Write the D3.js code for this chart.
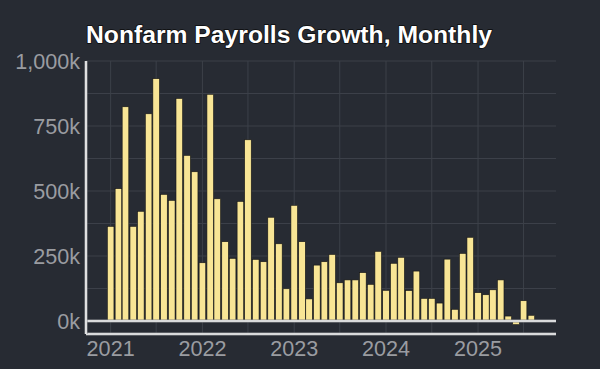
<!DOCTYPE html>
<html lang="en">
<head>
<meta charset="utf-8">
<title>Nonfarm Payrolls Growth, Monthly</title>
<script src="https://d3js.org/d3.v7.min.js"></script>
<style>
  html, body { margin: 0; padding: 0; background: #272b33; }
  svg { display: block; font-family: "Liberation Sans", Arial, sans-serif; }
  .grid line { stroke: #3c4049; stroke-width: 1; }
  .lab { fill: #9a9ca1; font-size: 21.6px; }
</style>
</head>
<body>
<div id="chart"></div>
<script>
// monthly change in nonfarm payrolls, thousands, Jan 2021 .. Aug 2025
var firstMonth = new Date(2021, 0, 1);
var payrolls = [
  364, 509, 824, 364, 422, 797, 932, 487, 464, 856, 637, 574,
  224, 872, 470, 305, 241, 460, 697, 237, 228, 399, 297, 124,
  445, 305, 85, 215, 228, 256, 147, 158, 158, 186, 141, 268,
  118, 222, 245, 117, 192, 87, 87, 69, 238, 45, 260, 322,
  109, 101, 120, 158, 19, -14, 78, 22
];
var yTicks = [0, 250, 500, 750, 1000];
var yMinor = [125, 375, 625, 875];
var years = [2021, 2022, 2023, 2024, 2025];

var w = 600, h = 369;
var pLeft = 86, pRight = 556, pTop = 61, pBottom = 334;

var svg = d3.select("#chart").append("svg")
  .attr("width", w).attr("height", h);

svg.append("rect").attr("width", w).attr("height", h).attr("fill", "#272b33");

var months = payrolls.map(function(v, i) { return d3.timeMonth.offset(firstMonth, i); });
var lastMonth = months[months.length - 1];

var x = d3.scaleTime()
  .domain([d3.timeDay.offset(firstMonth, -98), d3.timeDay.offset(lastMonth, 98)])
  .range([pLeft, pRight]);

var y = d3.scaleLinear()
  .domain([-50, 1000])
  .range([pBottom, pTop]);

// grid
var grid = svg.append("g").attr("class", "grid");
grid.selectAll(".hy")
  .data(yTicks.concat(yMinor))
  .enter().append("line")
  .attr("x1", pLeft).attr("x2", pRight)
  .attr("y1", function(d) { return y(d); })
  .attr("y2", function(d) { return y(d); });

var vLines = [];
years.forEach(function(yr) {
  vLines.push(new Date(yr, 0, 1));
  vLines.push(new Date(yr, 6, 1));
});
grid.selectAll(".vx")
  .data(vLines)
  .enter().append("line")
  .attr("x1", function(d) { return x(d); })
  .attr("x2", function(d) { return x(d); })
  .attr("y1", pTop).attr("y2", pBottom);

// bars
var bw = 6.6;
svg.append("g").selectAll("rect")
  .data(payrolls)
  .enter().append("rect")
  .attr("x", function(d, i) { return x(months[i]) - bw / 2; })
  .attr("y", function(d) { return y(Math.max(0, d)); })
  .attr("width", bw)
  .attr("height", function(d) { return Math.abs(y(d) - y(0)); })
  .attr("fill", "#f8e595")
  .attr("stroke", "#141414")
  .attr("stroke-width", 0.6);

// zero line and axis lines
function whiteLine(x1, y1, x2, y2) {
  svg.append("line")
    .attr("x1", x1).attr("y1", y1).attr("x2", x2).attr("y2", y2)
    .attr("stroke", "#8d8f94").attr("stroke-width", 3);
  svg.append("line")
    .attr("x1", x1).attr("y1", y1).attr("x2", x2).attr("y2", y2)
    .attr("stroke", "#f4f4f4").attr("stroke-width", 1.6);
}
whiteLine(pLeft, y(0), pRight, y(0));
whiteLine(pLeft, pBottom, pRight, pBottom);
whiteLine(pLeft, pTop, pLeft, pBottom);

// axis labels
var fmt = d3.format(",");
svg.append("g").selectAll("text")
  .data(yTicks)
  .enter().append("text")
  .attr("class", "lab")
  .attr("x", 80)
  .attr("y", function(d) { return y(d); })
  .attr("dy", "0.36em")
  .attr("text-anchor", "end")
  .text(function(d) { return fmt(d) + "k"; });

svg.append("g").selectAll("text")
  .data(years)
  .enter().append("text")
  .attr("class", "lab")
  .attr("x", function(d) { return x(new Date(d, 0, 1)); })
  .attr("y", 356)
  .attr("text-anchor", "middle")
  .text(function(d) { return d; });

// title
svg.append("text")
  .attr("x", 86).attr("y", 43)
  .attr("font-size", "24.7px")
  .attr("font-weight", "bold")
  .attr("fill", "#ffffff")
  .attr("stroke", "#0c0c0c")
  .attr("stroke-width", 1.5)
  .attr("paint-order", "stroke")
  .text("Nonfarm Payrolls Growth, Monthly");
</script>
</body>
</html>
